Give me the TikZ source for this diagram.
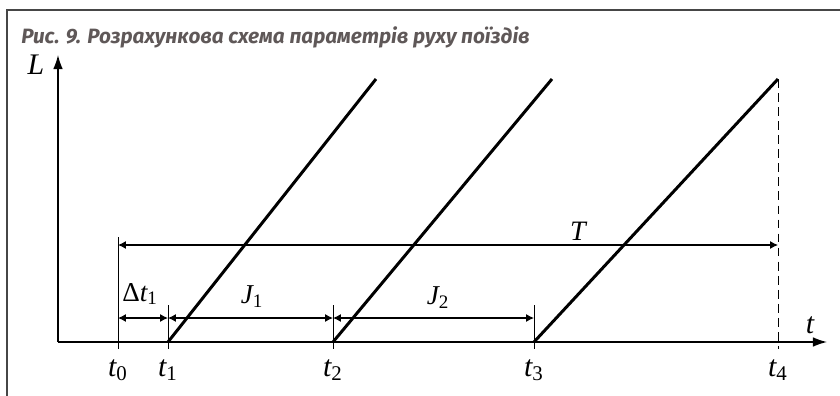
\documentclass[tikz,border=0pt]{standalone}
\usepackage{fontspec}
\setmainfont{Liberation Serif}
\newfontfamily\titlefont{Fira Sans}
\usetikzlibrary{arrows.meta}
\definecolor{framegray}{RGB}{70,70,70}
\definecolor{titlegray}{RGB}{95,88,88}
\tikzset{
  train/.style={line width=1.7pt},
  axis/.style={line width=0.8pt, -{Latex[length=8pt,width=5.5pt]}},
  tickline/.style={line width=0.5pt},
  span/.style={line width=0.6pt, {Latex[length=4.5pt,width=4.5pt]}-{Latex[length=4.5pt,width=4.5pt]}},
  biglbl/.style={inner sep=0pt, font=\fontsize{17}{20}\selectfont\itshape},
  smalllbl/.style={inner sep=0pt, font=\fontsize{15.5}{18}\selectfont\itshape},
}
\newcommand{\tsub}[2]{#1\textsubscript{\upshape #2}}
\begin{document}
\begin{tikzpicture}[x=0.02cm, y=-0.02cm]
  \useasboundingbox (0,0) rectangle (840,396);
  % frame and caption
  \draw[framegray, line width=0.9pt] (7,396) -- (7,10) -- (840,10);
  \node[anchor=west, inner sep=0pt, text=titlegray,
        font=\titlefont\bfseries\itshape\fontsize{11.8}{14}\selectfont] (title) at (21,37)
        {Рис. 9. Розрахункова схема параметрів руху поїздів};
  % axes
  \coordinate (O) at (58,342);
  \coordinate (Ltip) at (58,55);
  \coordinate (ttip) at (827,342);
  \draw[axis] (O) -- (Ltip);
  \draw[axis] (O) -- (ttip);
  \node[biglbl] (Llbl) at (36,65) {L};
  \node[biglbl] (tlbl) at (810,325) {t};
  % moments t_0 ... t_4
  \foreach \n/\x in {0/118,1/168,2/333,3/534,4/778}{
    \coordinate (t\n) at (\x,342);
    \coordinate (b\n) at (\x,349);
    \coordinate (k\n) at (\x,305);
    \coordinate (s\n) at (\x,318);
    \node[biglbl] (lt\n) at (\x,370) {\tsub{t}{\n}};
  }
  \draw[tickline] (118,237) -- (b0);
  \foreach \n in {1,2,3} \draw[tickline] (k\n) -- (b\n);
  % trains
  \coordinate (top1) at (376,79);
  \coordinate (top2) at (552,79);
  \coordinate (top3) at (778,79);
  \foreach \n in {1,2,3} \draw[train] (t\n) -- (top\n);
  \draw[tickline, dash pattern=on 5pt off 3pt] (top3) -- (b4);
  % intervals
  \draw[span] (s0) -- (s1);
  \draw[span] (s1) -- (s2);
  \draw[span] (s2) -- (s3);
  \coordinate (Ta) at (118,245);
  \coordinate (Tb) at (778,245);
  \draw[span] (Ta) -- (Tb);
  \node[smalllbl] (dt) at (140,294) {{\upshape Δ}\tsub{t}{1}};
  \node[smalllbl] (J1) at (252,297) {\tsub{J}{1}};
  \node[smalllbl] (J2) at (438,298) {\tsub{J}{2}};
  \node[smalllbl, font=\fontsize{16}{19}\selectfont\itshape] (T) at (578,231) {T};
\end{tikzpicture}
\end{document}
